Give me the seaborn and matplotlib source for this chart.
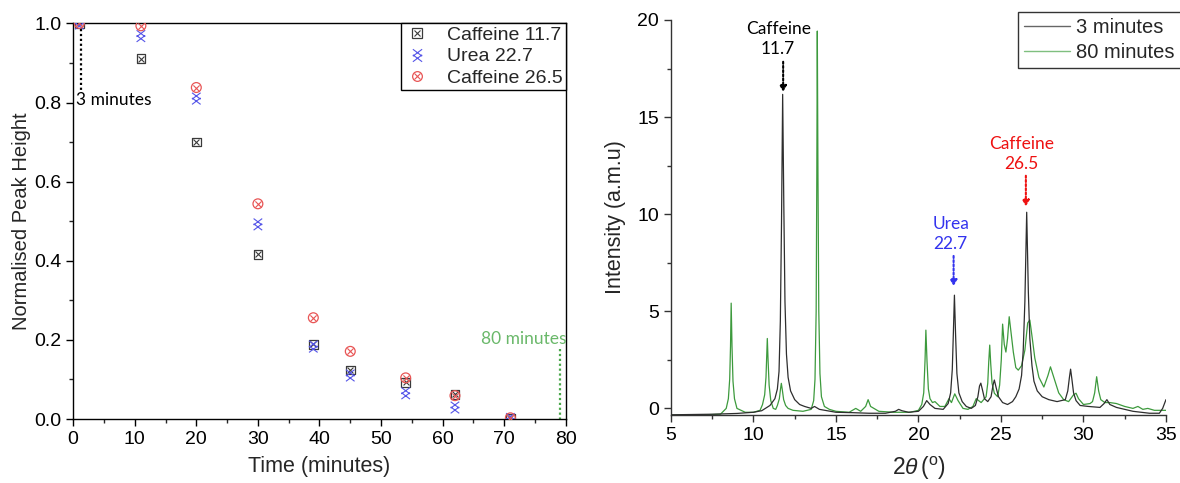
import matplotlib
matplotlib.use("Agg")
import matplotlib.pyplot as plt
import seaborn as sns
import numpy as np
import pandas as pd
from matplotlib.path import Path
from matplotlib.lines import Line2D
from matplotlib.legend_handler import HandlerTuple

# ---------------- data: left panel ----------------
time_min = [1, 11, 20, 30, 39, 45, 54, 62, 71]
caffeine_117 = [1.0, 0.911, 0.70, 0.416, 0.189, 0.124, 0.093, 0.062, 0.002]
urea_227 = [1.0, 0.968, 0.81, 0.492, 0.183, 0.110, 0.065, 0.029, 0.0]
caffeine_265 = [1.0, 0.994, 0.838, 0.544, 0.256, 0.171, 0.104, 0.059, 0.003]
series_names = ["Caffeine 11.7", "Urea 22.7", "Caffeine 26.5"]

# ---------------- data: right panel ----------------
twotheta_3min = [5.0, 7.5, 9.0, 10.0, 10.5, 11.0, 11.3, 11.45, 11.55, 11.63, 11.7, 11.77, 11.84,
                 11.91, 12.0, 12.1, 12.25, 12.5, 12.8, 13.1, 13.5, 13.7, 14.0, 15.0, 16.0, 17.0,
                 18.0, 18.6, 18.8, 19.0, 19.4, 20.0, 20.3, 20.5, 20.7, 21.0, 21.5, 21.8, 21.95,
                 22.05, 22.12, 22.18, 22.25, 22.33, 22.45, 22.65, 22.9, 23.2, 23.45, 23.6, 23.7,
                 23.78, 23.88, 24.0, 24.2, 24.4, 24.52, 24.6, 24.7, 24.85, 25.1, 25.4, 25.7, 25.9,
                 26.1, 26.25, 26.35, 26.45, 26.56, 26.66, 26.75, 26.88, 27.0, 27.2, 27.5, 27.9,
                 28.4, 28.9, 29.05, 29.15, 29.22, 29.3, 29.4, 29.55, 29.8, 30.3, 31.0, 31.25,
                 31.42, 31.6, 32.0, 32.5, 33.0, 34.0, 34.6, 34.8, 35.0]
intensity_3min = [-0.33, -0.30, -0.26, -0.20, -0.12, 0.15, 0.5, 1.0, 1.9, 4.5, 9.5, 16.17, 10.5,
                  5.5, 2.8, 1.6, 0.9, 0.45, 0.2, 0.1, 0.0, 0.1, -0.05, -0.2, -0.22, -0.25,
                  -0.25, -0.15, -0.05, -0.12, -0.2, -0.15, 0.1, 0.4, 0.2, 0.0, -0.05, 0.25, 0.8,
                  2.0, 4.0, 5.83, 3.8, 1.8, 0.8, 0.35, 0.1, 0.0, 0.15, 0.6, 1.15,
                  1.3, 0.95, 0.5, 0.35, 0.6, 1.2, 1.46, 1.1, 0.6, 0.3, 0.2, 0.35, 0.6,
                  1.0, 1.7, 3.0, 5.5, 10.1, 6.0, 3.6, 2.2, 1.4, 0.9, 0.6, 0.45,
                  0.35, 0.45, 0.9, 1.6, 2.02, 1.5, 0.8, 0.4, 0.15, 0.1, 0.05, 0.25,
                  0.45, 0.2, 0.05, -0.05, -0.15, -0.25, -0.25, 0.0, 0.45]

twotheta_80min = [5.0, 7.0, 8.0, 8.35, 8.48, 8.56, 8.61, 8.65, 8.7, 8.76, 8.85, 9.0, 9.5, 10.0,
                  10.4, 10.55, 10.68, 10.76, 10.8, 10.84, 10.89, 10.95, 11.05, 11.2, 11.35, 11.45,
                  11.57, 11.64, 11.69, 11.75, 11.83, 11.95, 12.1, 12.4, 13.0, 13.5, 13.65, 13.73,
                  13.8, 13.84, 13.87, 13.91, 13.96, 14.03, 14.12, 14.3, 14.6, 15.0, 15.8, 16.2,
                  16.5, 16.8, 16.95, 17.1, 17.3, 17.6, 18.5, 19.5, 20.0, 20.2, 20.32, 20.4, 20.45,
                  20.52, 20.6, 20.7, 20.85, 21.0, 21.3, 21.6, 21.85, 22.0, 22.2, 22.4, 22.7,
                  23.0, 23.3, 23.5, 23.8, 24.1, 24.2, 24.26, 24.32, 24.38, 24.46, 24.6, 24.8,
                  24.92, 25.02, 25.1, 25.2, 25.3, 25.4, 25.5, 25.6, 25.75, 25.9, 26.05, 26.25,
                  26.45, 26.62, 26.75, 26.9, 27.05, 27.3, 27.6, 27.85, 28.0, 28.2, 28.5, 28.8,
                  29.1, 29.4, 29.55, 29.7, 30.0, 30.4, 30.55, 30.68, 30.8, 30.92, 31.05, 31.3,
                  31.6, 32.0, 32.5, 33.0, 33.3, 33.6, 33.9, 34.3, 35.0]
intensity_80min = [-0.35, -0.33, -0.30, 0.0, 0.5, 1.5, 3.2, 5.42, 3.2, 1.4, 0.5, 0.0, -0.2, -0.2,
                   -0.1, 0.2, 0.7, 1.6, 2.6, 3.6, 2.4, 1.2, 0.4, 0.0, -0.05, 0.15,
                   0.5, 1.0, 1.29, 0.95, 0.45, 0.15, 0.0, -0.1, -0.15, -0.05, 0.4, 1.5,
                   5.0, 12.0, 19.43, 12.0, 5.0, 1.8, 0.6, 0.1, -0.05, -0.15, -0.2, 0.0,
                   -0.15, 0.1, 0.45, 0.1, 0.0, -0.15, -0.2, -0.2, -0.1, 0.2, 0.8, 2.5, 4.03,
                   2.4, 1.0, 0.5, 0.3, 0.35, 0.1, 0.1, 0.5, 0.3, 0.75, 0.4, 0.0,
                   -0.05, 0.1, 0.5, 0.3, 0.6, 1.3, 2.4, 3.26, 2.3, 1.3, 0.78, 0.6,
                   1.2, 2.5, 4.34, 3.3, 2.9, 3.6, 4.72, 4.0, 2.9, 2.1, 1.97, 2.2,
                   3.0, 4.4, 4.55, 3.6, 2.6, 1.6, 1.1, 1.7, 2.14, 1.6, 0.8, 0.45,
                   0.35, 0.7, 0.78, 0.5, 0.2, 0.25, 0.35, 0.8, 1.63, 0.9, 0.45, 0.3,
                   0.3, 0.25, 0.1, 0.0, 0.1, -0.05, 0.0, -0.1, -0.1]
trace_names = ["3 minutes", "80 minutes"]

# ---------------- style ----------------
sns.set_style("ticks")
plt.rcParams["font.family"] = ["Liberation Sans", "DejaVu Sans"]
plt.rcParams["mathtext.fontset"] = "custom"
plt.rcParams["mathtext.rm"] = "Liberation Sans"
plt.rcParams["mathtext.it"] = "Liberation Sans:italic"
ANN_FONT = ["Lato", "DejaVu Sans"]

c_black = "#3a3a3a"
c_blue = "#5555e8"
c_red = "#e85555"

# double-X marker for urea
urea_marker = Path(
    [(-1, -0.15), (1, 1.35), (-1, 1.35), (1, -0.15),
     (-1, -1.35), (1, 0.15), (-1, 0.15), (1, -1.35)],
    [Path.MOVETO, Path.LINETO, Path.MOVETO, Path.LINETO,
     Path.MOVETO, Path.LINETO, Path.MOVETO, Path.LINETO])

fig = plt.figure(figsize=(11.8, 4.83), dpi=100)
ax1 = fig.add_axes([0.062, 0.1325, 0.4175, 0.819])
ax2 = fig.add_axes([0.5686, 0.1408, 0.4195, 0.8178])

# ---------------- left panel ----------------
df = pd.DataFrame({"time": time_min, "c117": caffeine_117, "u227": urea_227, "c265": caffeine_265})
sns.scatterplot(data=df, x="time", y="c117", marker="s", s=40, facecolor="none",
                edgecolor=c_black, linewidth=0.9, ax=ax1, zorder=3)
sns.scatterplot(data=df, x="time", y="c117", marker="x", s=18, color=c_black,
                linewidth=0.8, ax=ax1, zorder=3)
sns.scatterplot(data=df, x="time", y="u227", marker=urea_marker, s=70, color=c_blue,
                facecolor="none", edgecolor=c_blue, linewidth=0.8, ax=ax1, zorder=3)
sns.scatterplot(data=df, x="time", y="c265", marker="o", s=50, facecolor="none",
                edgecolor=c_red, linewidth=0.9, ax=ax1, zorder=3)
sns.scatterplot(data=df, x="time", y="c265", marker="x", s=20, color=c_red,
                linewidth=0.8, ax=ax1, zorder=3)

ax1.set_xlim(0, 80)
ax1.set_ylim(0, 1.0)
ax1.set_xticks(np.arange(0, 81, 10))
ax1.set_xticks(np.arange(5, 80, 10), minor=True)
ax1.set_yticks(np.arange(0, 1.01, 0.2))
ax1.set_yticks(np.arange(0.1, 1.0, 0.2), minor=True)
ax1.yaxis.set_major_formatter(matplotlib.ticker.FormatStrFormatter("%.1f"))
ax1.tick_params(which="major", direction="out", length=5, width=1, labelsize=14, colors="black")
ax1.tick_params(which="minor", direction="out", length=3, width=1)
for sp in ax1.spines.values():
    sp.set_visible(True)
    sp.set_linewidth(1.0)
    sp.set_color("black")
ax1.set_xlabel("Time (minutes)", fontsize=15.5, labelpad=6)
ax1.set_ylabel("Normalised Peak Height", fontsize=14.5, labelpad=2)

h_c117 = (Line2D([], [], marker="s", ls="none", mfc="none", mec=c_black, ms=6.5, mew=0.9),
          Line2D([], [], marker="x", ls="none", color=c_black, ms=4.5, mew=0.8))
h_u227 = Line2D([], [], marker=urea_marker, ls="none", mfc="none", mec=c_blue, ms=9, mew=0.8)
h_c265 = (Line2D([], [], marker="o", ls="none", mfc="none", mec=c_red, ms=7, mew=0.9),
          Line2D([], [], marker="x", ls="none", color=c_red, ms=4.5, mew=0.8))
leg1 = ax1.legend([h_c117, h_u227, h_c265], series_names,
                  handler_map={tuple: HandlerTuple(ndivide=1, pad=0)},
                  loc="upper right", bbox_to_anchor=(1.0, 1.0), fontsize=14,
                  frameon=True, fancybox=False, framealpha=1, edgecolor="black",
                  borderpad=0.15, labelspacing=0.2, handlelength=1.3, handletextpad=0.9,
                  borderaxespad=0)
leg1.get_frame().set_linewidth(1.0)

# annotations
ax1.plot([1.27, 1.27], [0.987, 0.832], ls=(0, (1, 1.2)), color="black", lw=1.6)
ax1.text(0.5, 0.806, "3 minutes", fontsize=12.5, family=ANN_FONT, color="black",
         ha="left", va="center")
ax1.plot([79.0, 79.0], [0.176, 0.0], ls=(0, (1, 1.2)), color="#4aa84a", lw=1.6, clip_on=False)
ax1.text(80.1, 0.201, "80 minutes", fontsize=12.5, family=ANN_FONT, color="#6ab86a",
         ha="right", va="center")

# ---------------- right panel ----------------
d3 = pd.DataFrame({"tt": twotheta_3min, "I": intensity_3min})
d80 = pd.DataFrame({"tt": twotheta_80min, "I": intensity_80min})
sns.lineplot(data=d3, x="tt", y="I", color="#2e2e2e", lw=0.9, ax=ax2, zorder=3, sort=False)
sns.lineplot(data=d80, x="tt", y="I", color="#3d9a3d", lw=0.9, ax=ax2, zorder=2, sort=False)

ax2.set_xlim(5, 35)
ax2.set_ylim(-0.34, 20)
ax2.set_xticks(np.arange(5, 36, 5))
ax2.set_xticks(np.arange(7.5, 35, 5), minor=True)
ax2.set_yticks(np.arange(0, 21, 5))
ax2.set_yticks(np.arange(2.5, 20, 5), minor=True)
ax2.tick_params(which="major", direction="out", length=5, width=1, labelsize=14,
                colors="#333333", labelcolor="black")
ax2.tick_params(which="minor", direction="out", length=3, width=1, colors="#333333")
sns.despine(ax=ax2)
for sp in ("left", "bottom"):
    ax2.spines[sp].set_linewidth(1.0)
    ax2.spines[sp].set_color("#333333")
ax2.set_xlabel(r"2$\theta\,$($^{\rm o}$)", fontsize=16.5, labelpad=8)
ax2.set_ylabel("Intensity (a.m.u)", fontsize=15.5, labelpad=8)

h3 = Line2D([], [], color="#666666", lw=1.0)
h80 = Line2D([], [], color="#7fbf7f", lw=1.0)
leg2 = ax2.legend([h3, h80], trace_names, loc="upper right", bbox_to_anchor=(1.03, 1.02),
                  fontsize=14.5, frameon=True, fancybox=False, framealpha=1, edgecolor="#333333",
                  borderpad=0.3, labelspacing=0.3, handlelength=2.3, handletextpad=0.3,
                  borderaxespad=0)
leg2.get_frame().set_linewidth(1.0)

arrowkw = dict(arrowstyle="-|>,head_length=0.35,head_width=0.2", lw=1.5, ls=(0, (1, 1)),
               shrinkA=0, shrinkB=0)
ax2.text(11.5, 19.0, "Caffeine\n11.7", ha="center", va="center", fontsize=12.5,
         family=ANN_FONT, color="black", linespacing=1.3)
ax2.annotate("", xy=(11.8, 16.3), xytext=(11.8, 17.85),
             arrowprops=dict(color="black", **arrowkw))
ax2.text(21.95, 9.0, "Urea\n22.7", ha="center", va="center", fontsize=12.5,
         family=ANN_FONT, color="#3333ee", linespacing=1.3)
ax2.annotate("", xy=(22.13, 6.3), xytext=(22.13, 7.85),
             arrowprops=dict(color="#3333ee", **arrowkw))
ax2.text(26.25, 13.1, "Caffeine\n26.5", ha="center", va="center", fontsize=12.5,
         family=ANN_FONT, color="#ee1111", linespacing=1.3)
ax2.annotate("", xy=(26.51, 10.4), xytext=(26.51, 11.98),
             arrowprops=dict(color="#ee1111", **arrowkw))

fig.savefig("out.png", dpi=100)
